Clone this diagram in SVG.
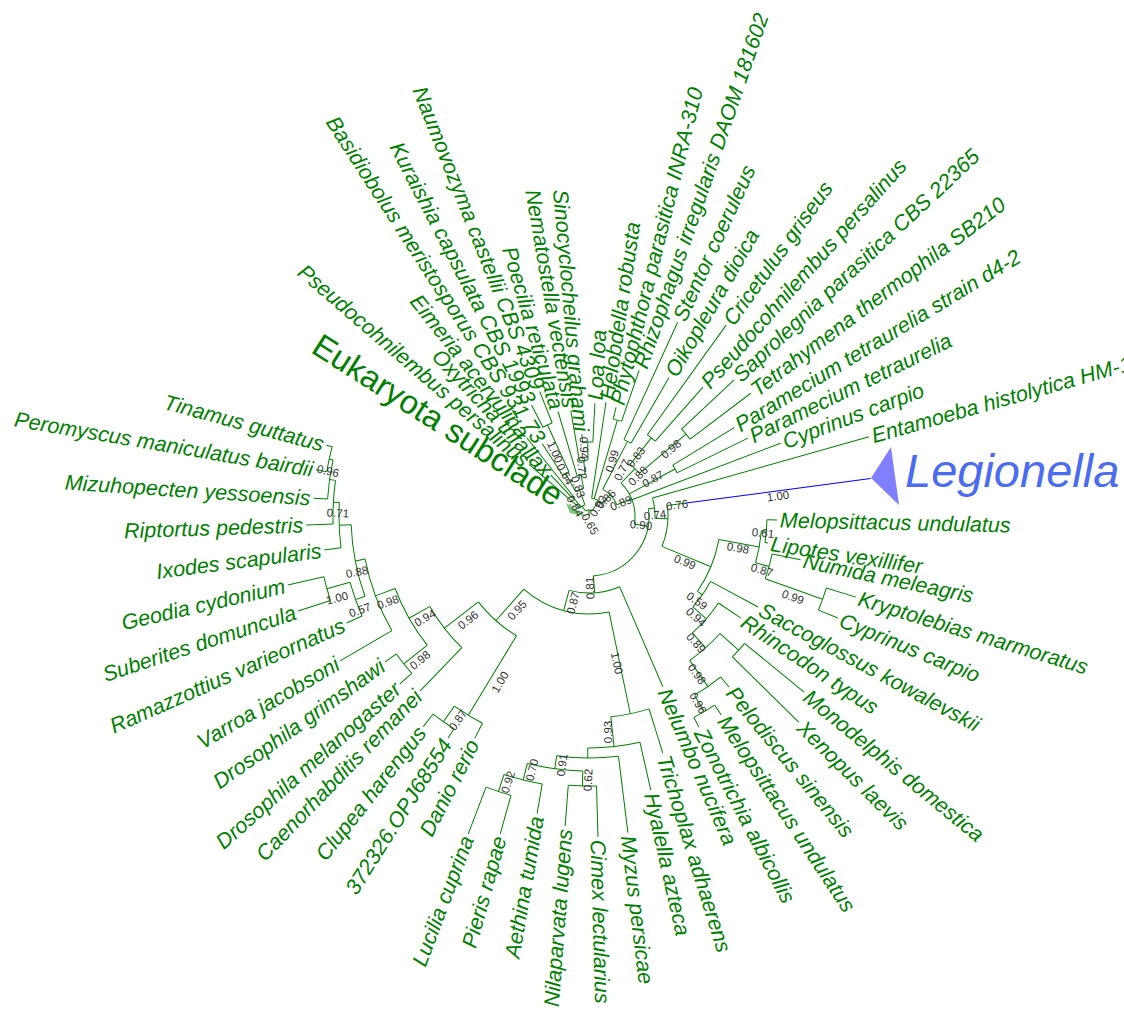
<svg xmlns="http://www.w3.org/2000/svg" width="1124" height="1009" viewBox="0 0 1124 1009">
<style>
.c line,.c circle{stroke:#008000;stroke-width:1;fill:none}
.lf{font-family:"Liberation Sans",Arial,sans-serif;font-style:italic;font-size:21.5px;fill:#008000}
.bs{font-family:"Liberation Sans",Arial,sans-serif;font-size:11.5px;fill:#333}
</style>
<rect width="1124" height="1009" fill="#fff"/>
<g id="connectors" class="c" transform="translate(589,516)">
<line x1="178" x2="188" transform="rotate(1.2)"/>
<line x1="178" x2="181" transform="rotate(8.6)"/>
<line x1="187" x2="216" transform="rotate(11.7)"/>
<line x1="248" x2="279" transform="rotate(16.9)"/>
<line x1="248" x2="269" transform="rotate(22.3)"/>
<line x1="138" x2="192" transform="rotate(28.3)"/>
<line x1="156" x2="183" transform="rotate(33.9)"/>
<line x1="201" x2="278" transform="rotate(39.3)"/>
<line x1="201" x2="294" transform="rotate(44.5)"/>
<line x1="208" x2="221" transform="rotate(50.7)"/>
<line x1="227" x2="239" transform="rotate(56.4)"/>
<line x1="227" x2="238" transform="rotate(62.5)"/>
<line x1="77" x2="186" transform="rotate(66.6)"/>
<line x1="202" x2="248" transform="rotate(72.7)"/>
<line x1="232" x2="281" transform="rotate(77.3)"/>
<line x1="242" x2="319" transform="rotate(83)"/>
<line x1="270" x2="321" transform="rotate(88.4)"/>
<line x1="270" x2="311" transform="rotate(94.4)"/>
<line x1="272" x2="302" transform="rotate(99.9)"/>
<line x1="290" x2="330" transform="rotate(105.6)"/>
<line x1="290" x2="340" transform="rotate(110.8)"/>
<line x1="233" x2="250" transform="rotate(117.2)"/>
<line x1="252" x2="263" transform="rotate(122.4)"/>
<line x1="252" x2="268" transform="rotate(128.2)"/>
<line x1="183" x2="243" transform="rotate(134)"/>
<line x1="237" x2="253" transform="rotate(138.4)"/>
<line x1="237" x2="251" transform="rotate(144.4)"/>
<line x1="228" x2="288" transform="rotate(149.8)"/>
<line x1="248" x2="265" transform="rotate(156.2)"/>
<line x1="272" x2="306" transform="rotate(161.9)"/>
<line x1="272" x2="309" transform="rotate(167.1)"/>
<line x1="250" x2="267" transform="rotate(172.7)"/>
<line x1="256" x2="283" transform="rotate(178.2)"/>
<line x1="262" x2="276" transform="rotate(183.7)"/>
<line x1="266" x2="277" transform="rotate(189.6)"/>
<line x1="266" x2="272" transform="rotate(195.1)"/>
<line x1="12" x2="79" transform="rotate(-139.3)"/>
<line x1="24" x2="56" transform="rotate(-133)"/>
<line x1="24" x2="100" transform="rotate(-128.5)"/>
<line x1="48" x2="86" transform="rotate(-122.9)"/>
<line x1="100" x2="125" transform="rotate(-117.4)"/>
<line x1="100" x2="134" transform="rotate(-111.6)"/>
<line x1="42" x2="109" transform="rotate(-106.5)"/>
<line x1="56" x2="107" transform="rotate(-99.8)"/>
<line x1="74" x2="82" transform="rotate(-95)"/>
<line x1="74" x2="113" transform="rotate(-87)"/>
<line x1="18" x2="115" transform="rotate(-81.5)"/>
<line x1="100" x2="112" transform="rotate(-76)"/>
<line x1="100" x2="154" transform="rotate(-71)"/>
<line x1="84" x2="213" transform="rotate(-65.4)"/>
<line x1="84" x2="160" transform="rotate(-60)"/>
<line x1="100" x2="235" transform="rotate(-54.3)"/>
<line x1="100" x2="172" transform="rotate(-48.5)"/>
<line x1="127" x2="199" transform="rotate(-43.2)"/>
<line x1="127" x2="203" transform="rotate(-37.2)"/>
<line x1="98" x2="170" transform="rotate(-31.3)"/>
<line x1="98" x2="177" transform="rotate(-26.1)"/>
<line x1="46" x2="205" transform="rotate(-20.8)"/>
<line x1="66" x2="291" transform="rotate(-15.8)"/>
<line x1="79" x2="98" transform="rotate(-7.6)"/>
<line x1="98" x2="284" transform="rotate(-7.6)" style="stroke:#0000ff"/>
<line x1="173" x2="178" transform="rotate(4.9)"/>
<line x1="187" x2="248" transform="rotate(19.6)"/>
<line x1="173" x2="187" transform="rotate(15.7)"/>
<line x1="132" x2="173" transform="rotate(10.3)"/>
<line x1="176" x2="201" transform="rotate(41.9)"/>
<line x1="208" x2="227" transform="rotate(59.5)"/>
<line x1="176" x2="208" transform="rotate(55.1)"/>
<line x1="156" x2="176" transform="rotate(48.5)"/>
<line x1="138" x2="156" transform="rotate(41.2)"/>
<line x1="132" x2="138" transform="rotate(34.8)"/>
<line x1="79" x2="132" transform="rotate(22.6)"/>
<line x1="66" x2="79" transform="rotate(2)"/>
<line x1="60" x2="66" transform="rotate(-7)"/>
<line x1="272" x2="290" transform="rotate(108.2)"/>
<line x1="255" x2="272" transform="rotate(104)"/>
<line x1="255" x2="270" transform="rotate(91.4)"/>
<line x1="242" x2="255" transform="rotate(97.7)"/>
<line x1="232" x2="242" transform="rotate(90.3)"/>
<line x1="202" x2="232" transform="rotate(83.8)"/>
<line x1="98" x2="202" transform="rotate(78.2)"/>
<line x1="233" x2="252" transform="rotate(125.3)"/>
<line x1="140" x2="233" transform="rotate(121.2)"/>
<line x1="262" x2="266" transform="rotate(192.35)"/>
<line x1="256" x2="262" transform="rotate(188)"/>
<line x1="250" x2="256" transform="rotate(183.1)"/>
<line x1="238" x2="250" transform="rotate(177.9)"/>
<line x1="248" x2="272" transform="rotate(164.5)"/>
<line x1="238" x2="248" transform="rotate(160.3)"/>
<line x1="228" x2="238" transform="rotate(169.1)"/>
<line x1="207" x2="228" transform="rotate(159.5)"/>
<line x1="207" x2="237" transform="rotate(141.4)"/>
<line x1="183" x2="207" transform="rotate(150.4)"/>
<line x1="140" x2="183" transform="rotate(142.2)"/>
<line x1="98" x2="140" transform="rotate(131.7)"/>
<line x1="77" x2="98" transform="rotate(105)"/>
<line x1="60" x2="77" transform="rotate(85.8)"/>
<line x1="46" x2="60" transform="rotate(10)"/>
<line x1="46" x2="98" transform="rotate(-28.7)"/>
<line x1="66" x2="127" transform="rotate(-40.2)"/>
<line x1="66" x2="100" transform="rotate(-51.4)"/>
<line x1="46" x2="66" transform="rotate(-45.8)"/>
<line x1="30" x2="46" transform="rotate(-22)"/>
<line x1="30" x2="84" transform="rotate(-62.7)"/>
<line x1="18" x2="30" transform="rotate(-45)"/>
<line x1="18" x2="100" transform="rotate(-73.5)"/>
<line x1="6" x2="18" transform="rotate(-58)"/>
<line x1="56" x2="74" transform="rotate(-91)"/>
<line x1="42" x2="56" transform="rotate(-95.4)"/>
<line x1="28" x2="42" transform="rotate(-101)"/>
<line x1="48" x2="100" transform="rotate(-114.5)"/>
<line x1="28" x2="48" transform="rotate(-118.7)"/>
<line x1="12" x2="28" transform="rotate(-110)"/>
<line x1="12" x2="24" transform="rotate(-130.7)"/>
<line x1="6" x2="12" transform="rotate(-125)"/>
<line x1="0" x2="6" transform="rotate(-91)"/>
<circle r="178" pathLength="360" stroke-dasharray="7.4 720" transform="rotate(1.2)"/>
<circle r="248" pathLength="360" stroke-dasharray="5.4 720" transform="rotate(16.9)"/>
<circle r="187" pathLength="360" stroke-dasharray="7.9 720" transform="rotate(11.7)"/>
<circle r="173" pathLength="360" stroke-dasharray="10.8 720" transform="rotate(4.9)"/>
<circle r="201" pathLength="360" stroke-dasharray="5.2 720" transform="rotate(39.3)"/>
<circle r="227" pathLength="360" stroke-dasharray="6.1 720" transform="rotate(56.4)"/>
<circle r="208" pathLength="360" stroke-dasharray="8.8 720" transform="rotate(50.7)"/>
<circle r="176" pathLength="360" stroke-dasharray="13.2 720" transform="rotate(41.9)"/>
<circle r="156" pathLength="360" stroke-dasharray="14.6 720" transform="rotate(33.9)"/>
<circle r="138" pathLength="360" stroke-dasharray="12.9 720" transform="rotate(28.3)"/>
<circle r="132" pathLength="360" stroke-dasharray="24.5 720" transform="rotate(10.3)"/>
<circle r="79" pathLength="360" stroke-dasharray="30.2 720" transform="rotate(-7.6)"/>
<circle r="66" pathLength="360" stroke-dasharray="17.8 720" transform="rotate(-15.8)"/>
<circle r="290" pathLength="360" stroke-dasharray="5.2 720" transform="rotate(105.6)"/>
<circle r="272" pathLength="360" stroke-dasharray="8.3 720" transform="rotate(99.9)"/>
<circle r="270" pathLength="360" stroke-dasharray="6 720" transform="rotate(88.4)"/>
<circle r="255" pathLength="360" stroke-dasharray="12.6 720" transform="rotate(91.4)"/>
<circle r="242" pathLength="360" stroke-dasharray="14.7 720" transform="rotate(83)"/>
<circle r="232" pathLength="360" stroke-dasharray="13 720" transform="rotate(77.3)"/>
<circle r="202" pathLength="360" stroke-dasharray="11.1 720" transform="rotate(72.7)"/>
<circle r="252" pathLength="360" stroke-dasharray="5.8 720" transform="rotate(122.4)"/>
<circle r="233" pathLength="360" stroke-dasharray="8.1 720" transform="rotate(117.2)"/>
<circle r="266" pathLength="360" stroke-dasharray="5.5 720" transform="rotate(189.6)"/>
<circle r="262" pathLength="360" stroke-dasharray="8.65 720" transform="rotate(183.7)"/>
<circle r="256" pathLength="360" stroke-dasharray="9.8 720" transform="rotate(178.2)"/>
<circle r="250" pathLength="360" stroke-dasharray="10.4 720" transform="rotate(172.7)"/>
<circle r="272" pathLength="360" stroke-dasharray="5.2 720" transform="rotate(161.9)"/>
<circle r="248" pathLength="360" stroke-dasharray="8.3 720" transform="rotate(156.2)"/>
<circle r="238" pathLength="360" stroke-dasharray="17.6 720" transform="rotate(160.3)"/>
<circle r="228" pathLength="360" stroke-dasharray="19.3 720" transform="rotate(149.8)"/>
<circle r="237" pathLength="360" stroke-dasharray="6 720" transform="rotate(138.4)"/>
<circle r="207" pathLength="360" stroke-dasharray="18.1 720" transform="rotate(141.4)"/>
<circle r="183" pathLength="360" stroke-dasharray="16.4 720" transform="rotate(134)"/>
<circle r="140" pathLength="360" stroke-dasharray="21 720" transform="rotate(121.2)"/>
<circle r="98" pathLength="360" stroke-dasharray="53.5 720" transform="rotate(78.2)"/>
<circle r="77" pathLength="360" stroke-dasharray="38.4 720" transform="rotate(66.6)"/>
<circle r="60" pathLength="360" stroke-dasharray="92.8 720" transform="rotate(-7)"/>
<circle r="98" pathLength="360" stroke-dasharray="5.2 720" transform="rotate(-31.3)"/>
<circle r="127" pathLength="360" stroke-dasharray="6 720" transform="rotate(-43.2)"/>
<circle r="100" pathLength="360" stroke-dasharray="5.8 720" transform="rotate(-54.3)"/>
<circle r="66" pathLength="360" stroke-dasharray="11.2 720" transform="rotate(-51.4)"/>
<circle r="46" pathLength="360" stroke-dasharray="55.8 720" transform="rotate(-45.8)"/>
<circle r="84" pathLength="360" stroke-dasharray="5.4 720" transform="rotate(-65.4)"/>
<circle r="30" pathLength="360" stroke-dasharray="40.7 720" transform="rotate(-62.7)"/>
<circle r="100" pathLength="360" stroke-dasharray="5 720" transform="rotate(-76)"/>
<circle r="18" pathLength="360" stroke-dasharray="36.5 720" transform="rotate(-81.5)"/>
<circle r="74" pathLength="360" stroke-dasharray="8 720" transform="rotate(-95)"/>
<circle r="56" pathLength="360" stroke-dasharray="8.8 720" transform="rotate(-99.8)"/>
<circle r="42" pathLength="360" stroke-dasharray="11.1 720" transform="rotate(-106.5)"/>
<circle r="100" pathLength="360" stroke-dasharray="5.8 720" transform="rotate(-117.4)"/>
<circle r="48" pathLength="360" stroke-dasharray="8.4 720" transform="rotate(-122.9)"/>
<circle r="28" pathLength="360" stroke-dasharray="17.7 720" transform="rotate(-118.7)"/>
<circle r="24" pathLength="360" stroke-dasharray="4.5 720" transform="rotate(-133)"/>
<circle r="12" pathLength="360" stroke-dasharray="29.3 720" transform="rotate(-139.3)"/>
<circle r="6" pathLength="360" stroke-dasharray="67 720" transform="rotate(-125)"/>
</g>
<g id="support-labels" class="bs" text-anchor="middle">
<text x="778" y="496" dy="0.35em" transform="rotate(-7.6 778 496)">1.00</text>
<text x="677" y="505" dy="0.35em" transform="rotate(-7.6 677 505)">0.76</text>
<text x="655" y="515" dy="0.35em" transform="rotate(-7 655 515)">0.74</text>
<text x="641" y="525" dy="0.35em" transform="rotate(5 641 525)">0.90</text>
<text x="685" y="562" dy="0.35em" transform="rotate(22.6 685 562)">0.99</text>
<text x="738" y="548" dy="0.35em" transform="rotate(10 738 548)">0.98</text>
<text x="763" y="533" dy="0.35em" transform="rotate(5 763 533)">0.61</text>
<text x="762" y="570" dy="0.35em" transform="rotate(16 762 570)">0.87</text>
<text x="793" y="597" dy="0.35em" transform="rotate(20 793 597)">0.99</text>
<text x="697" y="601" dy="0.35em" transform="rotate(35 697 601)">0.59</text>
<text x="696" y="617" dy="0.35em" transform="rotate(41 696 617)">0.94</text>
<text x="696" y="643" dy="0.35em" transform="rotate(48 696 643)">0.89</text>
<text x="697" y="674" dy="0.35em" transform="rotate(55 697 674)">0.98</text>
<text x="698" y="703" dy="0.35em" transform="rotate(60 698 703)">0.96</text>
<text x="590" y="588" dy="0.35em" transform="rotate(-92 590 588)">0.81</text>
<text x="573" y="603" dy="0.35em" transform="rotate(-75 573 603)">0.87</text>
<text x="617" y="663" dy="0.35em" transform="rotate(78 617 663)">1.00</text>
<text x="608" y="732" dy="0.35em" transform="rotate(-90 608 732)">0.93</text>
<text x="562" y="765" dy="0.35em" transform="rotate(-82 562 765)">0.91</text>
<text x="588" y="780" dy="0.35em" transform="rotate(-88 588 780)">0.62</text>
<text x="532" y="770" dy="0.35em" transform="rotate(-76 532 770)">0.70</text>
<text x="508" y="782" dy="0.35em" transform="rotate(-72 508 782)">0.92</text>
<text x="458" y="720" dy="0.35em" transform="rotate(-55 458 720)">0.87</text>
<text x="500" y="682" dy="0.35em" transform="rotate(-59 500 682)">1.00</text>
<text x="517" y="610" dy="0.35em" transform="rotate(-48 517 610)">0.95</text>
<text x="468" y="620" dy="0.35em" transform="rotate(-38 468 620)">0.96</text>
<text x="425" y="618" dy="0.35em" transform="rotate(-30 425 618)">0.94</text>
<text x="420" y="660" dy="0.35em" transform="rotate(-39 420 660)">0.98</text>
<text x="388" y="602" dy="0.35em" transform="rotate(-20 388 602)">0.98</text>
<text x="360" y="610" dy="0.35em" transform="rotate(-20 360 610)">0.57</text>
<text x="337" y="598" dy="0.35em" transform="rotate(-15 337 598)">1.00</text>
<text x="357" y="572" dy="0.35em" transform="rotate(-11 357 572)">0.88</text>
<text x="338" y="513" dy="0.35em" transform="rotate(3 338 513)">0.71</text>
<text x="328" y="471" dy="0.35em" transform="rotate(12 328 471)">0.96</text>
<text x="555" y="452" dy="0.35em" transform="rotate(65.5 555 452)">1.00</text>
<text x="565" y="474" dy="0.35em" transform="rotate(61 565 474)">0.64</text>
<text x="578" y="487" dy="0.35em" transform="rotate(70 578 487)">0.83</text>
<text x="575" y="506" dy="0.35em" transform="rotate(60 575 506)">0.84</text>
<text x="582" y="468" dy="0.35em" transform="rotate(84.6 582 468)">0.72</text>
<text x="584" y="448" dy="0.35em" transform="rotate(89 584 448)">0.94</text>
<text x="590" y="524" dy="0.35em" transform="rotate(60 590 524)">0.65</text>
<text x="598" y="506" dy="0.35em" transform="rotate(-58 598 506)">0.92</text>
<text x="606" y="499" dy="0.35em" transform="rotate(-45 606 499)">0.86</text>
<text x="621" y="503" dy="0.35em" transform="rotate(-22 621 503)">0.89</text>
<text x="612" y="461" dy="0.35em" transform="rotate(-73.5 612 461)">0.99</text>
<text x="622" y="470" dy="0.35em" transform="rotate(-62.7 622 470)">0.77</text>
<text x="636" y="457" dy="0.35em" transform="rotate(-51.4 636 457)">0.83</text>
<text x="638" y="476" dy="0.35em" transform="rotate(-45.8 638 476)">0.88</text>
<text x="653" y="479" dy="0.35em" transform="rotate(-28.7 653 479)">0.87</text>
<text x="671" y="449" dy="0.35em" transform="rotate(-40.2 671 449)">0.98</text>
</g>
<g id="leaves" class="lf" transform="translate(589,516)">
<g id="leaf-melopsittacus-1"><text dy="0.35em" transform="rotate(1.2) translate(191,0)">Melopsittacus undulatus</text></g>
<g id="leaf-lipotes"><text dy="0.35em" transform="rotate(8.6) translate(184,0)">Lipotes vexillifer</text></g>
<g id="leaf-numida"><text dy="0.35em" transform="rotate(11.7) translate(219,0)">Numida meleagris</text></g>
<g id="leaf-kryptolebias"><text dy="0.35em" transform="rotate(16.9) translate(282,0)">Kryptolebias marmoratus</text></g>
<g id="leaf-cyprinus-1"><text dy="0.35em" transform="rotate(22.3) translate(272,0)">Cyprinus carpio</text></g>
<g id="leaf-saccoglossus"><text dy="0.35em" transform="rotate(28.3) translate(195,0)">Saccoglossus kowalevskii</text></g>
<g id="leaf-rhincodon"><text dy="0.35em" transform="rotate(33.9) translate(186,0)">Rhincodon typus</text></g>
<g id="leaf-monodelphis"><text dy="0.35em" transform="rotate(39.3) translate(281,0)">Monodelphis domestica</text></g>
<g id="leaf-xenopus"><text dy="0.35em" transform="rotate(44.5) translate(297,0)">Xenopus laevis</text></g>
<g id="leaf-pelodiscus"><text dy="0.35em" transform="rotate(50.7) translate(224,0)">Pelodiscus sinensis</text></g>
<g id="leaf-melopsittacus-2"><text dy="0.35em" transform="rotate(56.4) translate(242,0)">Melopsittacus undulatus</text></g>
<g id="leaf-zonotrichia"><text dy="0.35em" transform="rotate(62.5) translate(241,0)">Zonotrichia albicollis</text></g>
<g id="leaf-nelumbo"><text dy="0.35em" transform="rotate(66.6) translate(189,0)">Nelumbo nucifera</text></g>
<g id="leaf-trichoplax"><text dy="0.35em" transform="rotate(72.7) translate(251,0)">Trichoplax adhaerens</text></g>
<g id="leaf-hyalella"><text dy="0.35em" transform="rotate(77.3) translate(284,0)">Hyalella azteca</text></g>
<g id="leaf-myzus"><text dy="0.35em" transform="rotate(83) translate(322,0)">Myzus persicae</text></g>
<g id="leaf-cimex"><text dy="0.35em" transform="rotate(88.4) translate(324,0)">Cimex lectularius</text></g>
<g id="leaf-nilaparvata"><text dy="0.35em" text-anchor="end" transform="rotate(94.4) translate(314,0) rotate(180)">Nilaparvata lugens</text></g>
<g id="leaf-aethina"><text dy="0.35em" text-anchor="end" transform="rotate(99.9) translate(305,0) rotate(180)">Aethina tumida</text></g>
<g id="leaf-pieris"><text dy="0.35em" text-anchor="end" transform="rotate(105.6) translate(333,0) rotate(180)">Pieris rapae</text></g>
<g id="leaf-lucilia"><text dy="0.35em" text-anchor="end" transform="rotate(110.8) translate(343,0) rotate(180)">Lucilia cuprina</text></g>
<g id="leaf-danio"><text dy="0.35em" text-anchor="end" transform="rotate(117.2) translate(253,0) rotate(180)">Danio rerio</text></g>
<g id="leaf-372326"><text dy="0.35em" text-anchor="end" transform="rotate(122.4) translate(266,0) rotate(180)">372326.OPJ68554</text></g>
<g id="leaf-clupea"><text dy="0.35em" text-anchor="end" transform="rotate(128.2) translate(271,0) rotate(180)">Clupea harengus</text></g>
<g id="leaf-caenorhabditis"><text dy="0.35em" text-anchor="end" transform="rotate(134) translate(246,0) rotate(180)">Caenorhabditis remanei</text></g>
<g id="leaf-drosophila-mel"><text dy="0.35em" text-anchor="end" transform="rotate(138.4) translate(256,0) rotate(180)">Drosophila melanogaster</text></g>
<g id="leaf-drosophila-gri"><text dy="0.35em" text-anchor="end" transform="rotate(144.4) translate(254,0) rotate(180)">Drosophila grimshawi</text></g>
<g id="leaf-varroa"><text dy="0.35em" text-anchor="end" transform="rotate(149.8) translate(291,0) rotate(180)">Varroa jacobsoni</text></g>
<g id="leaf-ramazzottius"><text dy="0.35em" text-anchor="end" transform="rotate(156.2) translate(268,0) rotate(180)">Ramazzottius varieornatus</text></g>
<g id="leaf-suberites"><text dy="0.35em" text-anchor="end" transform="rotate(161.9) translate(309,0) rotate(180)">Suberites domuncula</text></g>
<g id="leaf-geodia"><text dy="0.35em" text-anchor="end" transform="rotate(167.1) translate(312,0) rotate(180)">Geodia cydonium</text></g>
<g id="leaf-ixodes"><text dy="0.35em" text-anchor="end" transform="rotate(172.7) translate(270,0) rotate(180)">Ixodes scapularis</text></g>
<g id="leaf-riptortus"><text dy="0.35em" text-anchor="end" transform="rotate(178.2) translate(286,0) rotate(180)">Riptortus pedestris</text></g>
<g id="leaf-mizuhopecten"><text dy="0.35em" text-anchor="end" transform="rotate(183.7) translate(279,0) rotate(180)">Mizuhopecten yessoensis</text></g>
<g id="leaf-peromyscus"><text dy="0.35em" text-anchor="end" transform="rotate(189.6) translate(280,0) rotate(180)">Peromyscus maniculatus bairdii</text></g>
<g id="leaf-tinamus"><text dy="0.35em" text-anchor="end" transform="rotate(195.1) translate(275,0) rotate(180)">Tinamus guttatus</text></g>
<g id="leaf-eukaryota"><polygon points="-1,1 -23,-13 -19,-3" fill="#008000" fill-opacity="0.5" stroke="none"/><text dy="0.35em" text-anchor="end" transform="rotate(-147.5) translate(34,0) rotate(180)" style="font-style:normal;font-size:33px">Eukaryota subclade</text></g>
<g id="leaf-pseudocohnilembus-1"><text dy="0.35em" text-anchor="end" transform="rotate(-139.3) translate(82,0) rotate(180)">Pseudocohnilembus persalinus</text></g>
<g id="leaf-oxytricha"><text dy="0.35em" text-anchor="end" transform="rotate(-133) translate(59,0) rotate(180)">Oxytricha trifallax</text></g>
<g id="leaf-eimeria"><text dy="0.35em" text-anchor="end" transform="rotate(-128.5) translate(103,0) rotate(180)">Eimeria acervulina</text></g>
<g id="leaf-basidiobolus"><text dy="0.35em" text-anchor="end" transform="rotate(-122.9) translate(89,0) rotate(180)">Basidiobolus meristosporus CBS 931.73</text></g>
<g id="leaf-kuraishia"><text dy="0.35em" text-anchor="end" transform="rotate(-117.4) translate(128,0) rotate(180)">Kuraishia capsulata CBS 1993</text></g>
<g id="leaf-naumovozyma"><text dy="0.35em" text-anchor="end" transform="rotate(-111.6) translate(137,0) rotate(180)">Naumovozyma castellii CBS 4309</text></g>
<g id="leaf-poecilia"><text dy="0.35em" text-anchor="end" transform="rotate(-106.5) translate(112,0) rotate(180)">Poecilia reticulata</text></g>
<g id="leaf-nematostella"><text dy="0.35em" text-anchor="end" transform="rotate(-99.8) translate(110,0) rotate(180)">Nematostella vectensis</text></g>
<g id="leaf-sinocyclocheilus"><text dy="0.35em" text-anchor="end" transform="rotate(-95) translate(85,0) rotate(180)">Sinocyclocheilus grahami</text></g>
<g id="leaf-loa"><text dy="0.35em" transform="rotate(-87) translate(116,0)">Loa loa</text></g>
<g id="leaf-helobdella"><text dy="0.35em" transform="rotate(-81.5) translate(118,0)">Helobdella robusta</text></g>
<g id="leaf-phytophthora"><text dy="0.35em" transform="rotate(-76) translate(115,0)">Phytophthora parasitica INRA-310</text></g>
<g id="leaf-rhizophagus"><text dy="0.35em" transform="rotate(-71) translate(157,0)">Rhizophagus irregularis DAOM 181602</text></g>
<g id="leaf-stentor"><text dy="0.35em" transform="rotate(-65.4) translate(216,0)">Stentor coeruleus</text></g>
<g id="leaf-oikopleura"><text dy="0.35em" transform="rotate(-60) translate(163,0)">Oikopleura dioica</text></g>
<g id="leaf-cricetulus"><text dy="0.35em" transform="rotate(-54.3) translate(238,0)">Cricetulus griseus</text></g>
<g id="leaf-pseudocohnilembus-2"><text dy="0.35em" transform="rotate(-48.5) translate(175,0)">Pseudocohnilembus persalinus</text></g>
<g id="leaf-saprolegnia"><text dy="0.35em" transform="rotate(-43.2) translate(202,0)">Saprolegnia parasitica CBS 22365</text></g>
<g id="leaf-tetrahymena"><text dy="0.35em" transform="rotate(-37.2) translate(206,0)">Tetrahymena thermophila SB210</text></g>
<g id="leaf-paramecium-d4"><text dy="0.35em" transform="rotate(-31.3) translate(173,0)">Paramecium tetraurelia strain d4-2</text></g>
<g id="leaf-paramecium"><text dy="0.35em" transform="rotate(-26.1) translate(180,0)">Paramecium tetraurelia</text></g>
<g id="leaf-cyprinus-2"><text dy="0.35em" transform="rotate(-20.8) translate(208,0)">Cyprinus carpio</text></g>
<g id="leaf-entamoeba"><text dy="0.35em" transform="rotate(-15.8) translate(294,0)">Entamoeba histolytica HM-1</text></g>
</g>
<g id="leaf-legionella">
<polygon points="871,478 891,447 899,505" fill="#7f7fff"/>
<text x="905" y="487" style="font-family:'Liberation Sans',Arial,sans-serif;font-style:italic;font-size:47px;fill:#4a6cf0">Legionella</text>
</g>
</svg>
